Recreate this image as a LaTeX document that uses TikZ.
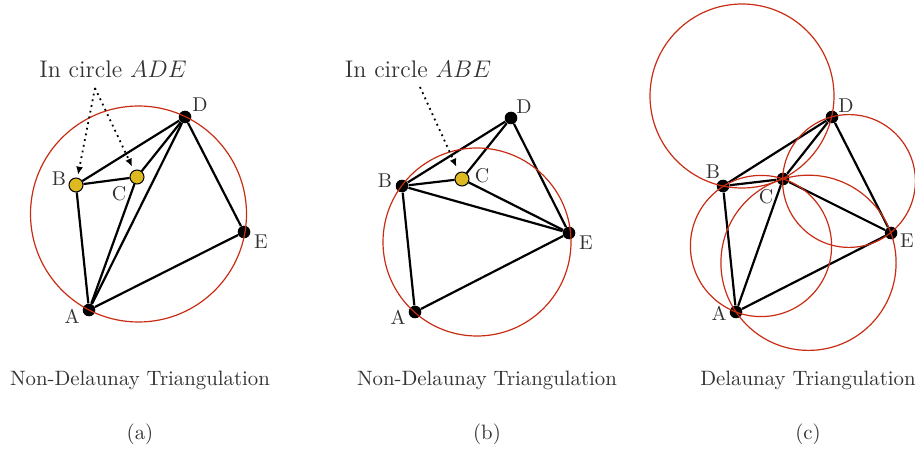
\documentclass[tikz,border=0pt]{standalone}
\usetikzlibrary{arrows.meta}

\definecolor{circred}{RGB}{200,45,20}
\definecolor{dotyellow}{RGB}{222,186,32}

\tikzset{
  vtx/.style={circle, fill=black, inner sep=0pt, minimum size=6.3pt},
  inpt/.style={circle, fill=dotyellow, draw=black, line width=0.5pt, inner sep=0pt, minimum size=7pt},
  side/.style={line width=1.1pt},
  ccirc/.style={circred, line width=0.6pt},
  lbl/.style={text=black!80, inner sep=1pt},
  capt/.style={lbl, font=\fontsize{10.4}{12}\selectfont},
  hint/.style={dotted, line width=0.9pt, -{Latex[length=4pt,width=3.5pt]}},
}

\begin{document}
\begin{tikzpicture}[x=0.5pt, y=-0.5pt]

  \useasboundingbox (0,0) rectangle (915,454);

  % (a) non-Delaunay, B and C inside circle ADE
  \node[vtx]  (aA) at (89,310) {};
  \node[inpt] (aB) at (76,185) {};
  \node[inpt] (aC) at (137,177) {};
  \node[vtx]  (aD) at (185,117) {};
  \node[vtx]  (aE) at (244,232) {};

  \draw[side] (aA) -- (aB) -- (aC) -- (aD) -- (aE) -- (aA);
  \draw[side] (aB) -- (aD);
  \draw[side] (aA) -- (aC);
  \draw[side] (aA) -- (aD);

  \draw[ccirc] (138.5,214) circle [radius=54pt];

  \node[lbl] (laA) at (72,316) {A};
  \node[lbl] (laB) at (59,179) {B};
  \node[lbl] (laC) at (119,194) {C};
  \node[lbl] (laD) at (200,105) {D};
  \node[lbl] (laE) at (261,242) {E};

  \node[lbl, font=\large] (inA) at (113,69) {In circle $ADE$};
  \coordinate (ta) at (95,88);
  \draw[hint, shorten >=1.5pt] (ta) -- (aB);
  \draw[hint, shorten >=2pt] (ta) -- (aC);

  % (b) non-Delaunay, C inside circle ABE
  \node[vtx]  (bA) at (415,312) {};
  \node[vtx]  (bB) at (402,186) {};
  \node[inpt] (bC) at (462,179) {};
  \node[vtx]  (bD) at (511,118) {};
  \node[vtx]  (bE) at (569,233) {};

  \draw[side] (bA) -- (bB) -- (bC) -- (bD) -- (bE) -- (bA);
  \draw[side] (bB) -- (bD);
  \draw[side] (bB) -- (bE);
  \draw[side] (bC) -- (bE);

  \draw[ccirc] (477,242) circle [radius=47pt];

  \node[lbl] (lbA) at (398,317) {A};
  \node[lbl] (lbB) at (385,181) {B};
  \node[lbl] (lbC) at (482,176) {C};
  \node[lbl] (lbD) at (524,107) {D};
  \node[lbl] (lbE) at (586,243) {E};

  \node[lbl, font=\large] (inB) at (418,69) {In circle $ABE$};
  \coordinate (tb) at (420,87);
  \draw[hint, shorten >=3pt] (tb) -- (bC);

  % (c) Delaunay
  \node[vtx] (cA) at (736,312) {};
  \node[vtx] (cB) at (723,186) {};
  \node[vtx] (cC) at (783,179) {};
  \node[vtx] (cD) at (832,117) {};
  \node[vtx] (cE) at (891,233) {};

  \draw[side] (cA) -- (cB) -- (cC) -- (cD) -- (cE) -- (cA);
  \draw[side] (cB) -- (cD);
  \draw[side] (cA) -- (cC);
  \draw[side] (cC) -- (cE);

  % Circumcircles
  \draw[ccirc] (742,96) circle [radius=46pt];
  \draw[ccirc] (849,181) circle [radius=33.2pt];
  \draw[ccirc] (761,246) circle [radius=35.3pt];
  \draw[ccirc] (808.5,262.8) circle [radius=43.8pt];

  \node[lbl] (lcA) at (719,313) {A};
  \node[lbl] (lcB) at (713,172) {B};
  \node[lbl] (lcC) at (766,197) {C};
  \node[lbl] (lcD) at (846,106) {D};
  \node[lbl] (lcE) at (907,241) {E};

  % Captions
  \node[capt] (capa) at (140,380) {Non-Delaunay Triangulation};
  \node[capt] (capb) at (487,380) {Non-Delaunay Triangulation};
  \node[capt] (capc) at (808,380) {Delaunay Triangulation};
  \node[capt] (suba) at (140,434) {(a)};
  \node[capt] (subb) at (487,434) {(b)};
  \node[capt] (subc) at (808,434) {(c)};

\end{tikzpicture}
\end{document}
